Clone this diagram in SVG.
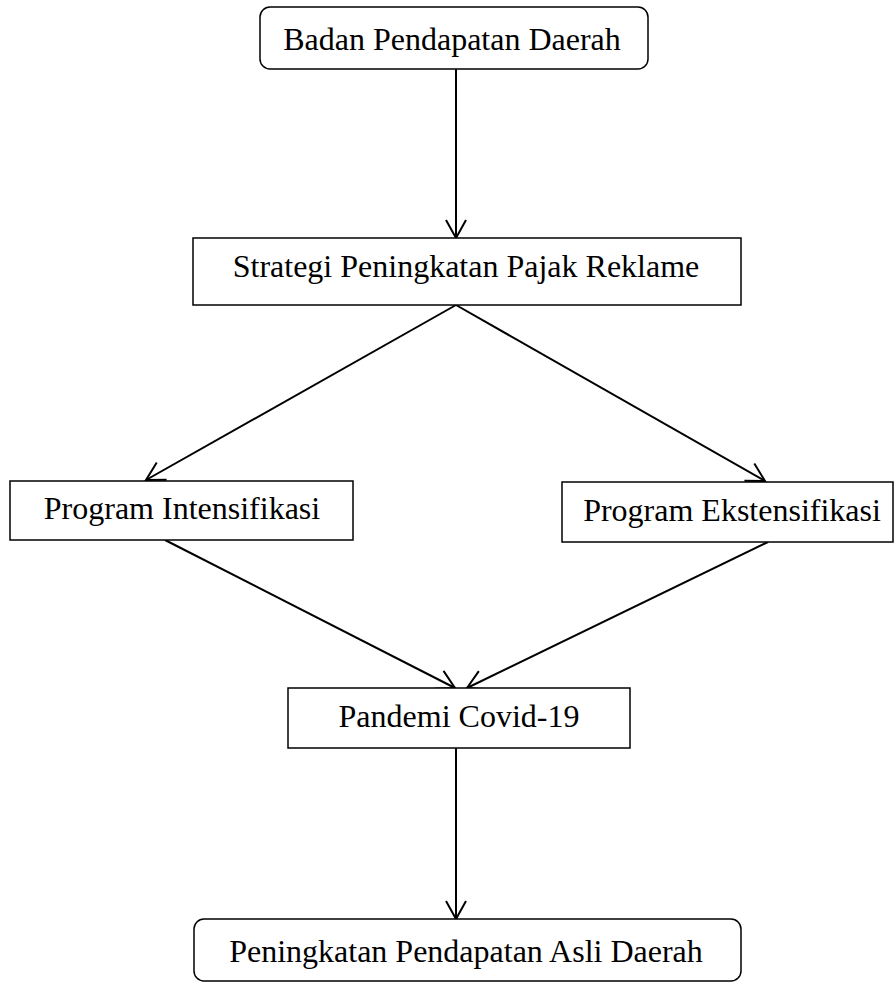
<svg xmlns="http://www.w3.org/2000/svg" width="895" height="983" viewBox="0 0 895 983">
<style>
.box{fill:#fff;stroke:#000;stroke-width:1.5}
.lbl{font-family:"Liberation Serif","Times New Roman",serif;font-size:32px;fill:#000;text-anchor:middle}
.con{stroke:#000;stroke-width:2;fill:none;marker-end:url(#arr)}
</style>
<defs>
<marker id="arr" markerUnits="userSpaceOnUse" viewBox="-22 -12 24 24" markerWidth="24" markerHeight="24" refX="0" refY="0" orient="auto">
<path d="M-18,-10 L0,0 L-18,10" fill="none" stroke="#000" stroke-width="2"/>
</marker>
</defs>
<rect width="895" height="983" fill="#fff"/>
<g id="connectors">
<line class="con" x1="456" y1="69" x2="456" y2="238"/>
<line class="con" x1="456" y1="305" x2="146" y2="480"/>
<line class="con" x1="456" y1="305" x2="765" y2="481"/>
<line class="con" x1="165" y1="540" x2="455" y2="688"/>
<line class="con" x1="768" y1="542" x2="467" y2="688"/>
<line class="con" x1="456" y1="748" x2="456" y2="919"/>
</g>
<g id="n1">
<rect class="box" x="260" y="7" width="388" height="62" rx="10"/>
<text class="lbl" x="452" y="50">Badan Pendapatan Daerah</text>
</g>
<g id="n2">
<rect class="box" x="193" y="238" width="548" height="67"/>
<text class="lbl" x="466" y="277">Strategi Peningkatan Pajak Reklame</text>
</g>
<g id="n3">
<rect class="box" x="10" y="481" width="343" height="59"/>
<text class="lbl" x="182" y="519">Program Intensifikasi</text>
</g>
<g id="n4">
<rect class="box" x="562" y="482" width="331" height="60"/>
<text class="lbl" x="732" y="521">Program Ekstensifikasi</text>
</g>
<g id="n5">
<rect class="box" x="288" y="688" width="342" height="60"/>
<text class="lbl" x="459" y="727">Pandemi Covid-19</text>
</g>
<g id="n6">
<rect class="box" x="194" y="919" width="547" height="62" rx="10"/>
<text class="lbl" x="466" y="962">Peningkatan Pendapatan Asli Daerah</text>
</g>
</svg>
